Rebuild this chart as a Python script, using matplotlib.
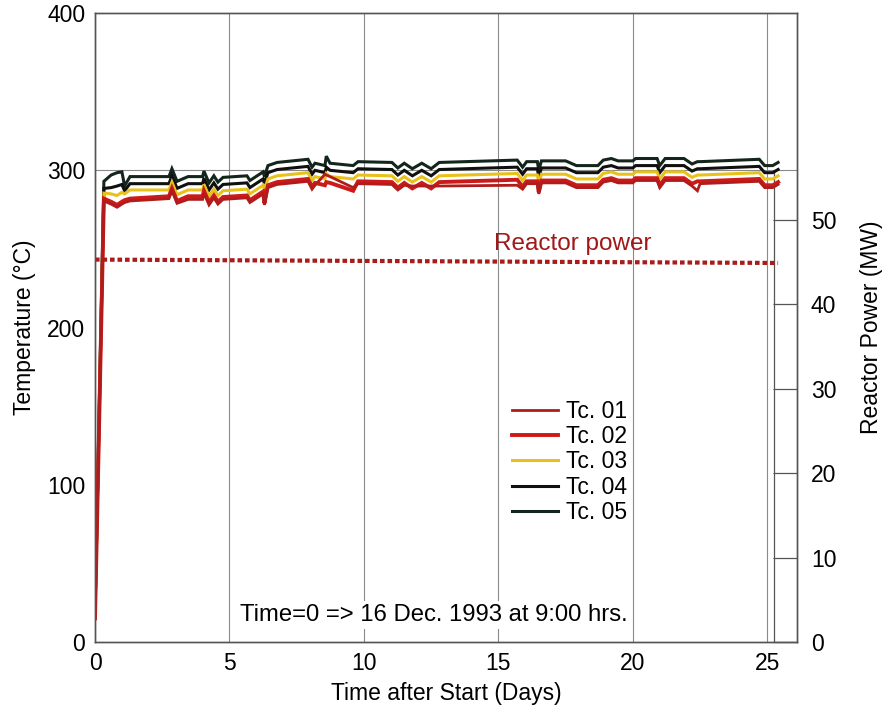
import matplotlib
matplotlib.use("Agg")
from matplotlib import pyplot as plt

plt.rcParams['font.family'] = ['Liberation Sans', 'DejaVu Sans']

# time after start (days), shared by all thermocouples
days = [0, 0.33, 0.6, 0.82, 1.0, 1.1, 1.3,
        2.75, 2.86, 3.05, 3.46, 4.0, 4.05, 4.24, 4.42, 4.57, 4.76,
        5.65, 5.76, 6.25, 6.3, 6.43, 6.77, 7.92, 8.07, 8.18,
        8.55, 8.6, 8.74, 9.6, 9.78,
        11.04, 11.26, 11.5, 11.8, 12.15, 12.5, 12.8,
        15.7, 15.9, 16.05, 16.45, 16.5, 16.6,
        17.5, 17.9, 18.7, 18.9, 19.2, 19.45,
        20.0, 20.1, 20.9, 21.0, 21.2, 21.9,
        22.2, 22.4, 22.5,
        24.7, 24.9, 25.2, 25.4]

tc01 = [15, 280.5, 278.5, 276.5, 278.5, 279.5, 280.5,
        282, 287, 279, 281.5, 281.5, 285.5, 278, 282.5, 278.5, 281.5,
        282.5, 279.5, 285, 278, 289, 291, 293, 288, 290.5,
        297.5, 297, 296, 289, 291.5,
        291, 287.5, 290.5, 290, 290, 290, 290,
        290.5, 288, 291.5, 291.5, 285, 292,
        292, 289, 289, 292.5, 293.5, 292,
        292, 293.5, 293.5, 289, 293.5, 293.5,
        290, 287, 291.5,
        293, 289, 289, 291]

tc02 = [15, 282, 280, 278, 280, 281, 282,
        283.5, 288.5, 280.5, 283.5, 283.5, 287, 279.5, 284, 280, 283,
        284, 281, 286.5, 279, 290.5, 292.5, 294.5, 289.5, 292,
        290.5, 292.5, 292, 287, 293,
        292.5, 289, 292, 288.5, 292, 288.5, 292.5,
        294, 289.5, 293, 293, 286, 293.5,
        293.5, 290.5, 290.5, 294, 295, 293.5,
        293.5, 295, 295, 290.5, 295, 295,
        291.5, 293, 293,
        294.5, 290.5, 290.5, 292.5]

tc03 = [17, 285.5, 285, 284, 286, 285, 287.5,
        287.5, 292.5, 284.5, 287.5, 287.5, 291, 283.5, 288, 284, 287,
        288, 285, 290.5, 287.5, 294.5, 296.5, 298.5, 293.5, 296,
        294.5, 298, 296, 294.5, 297,
        296.5, 293, 296, 292.5, 296, 292.5, 296.5,
        298, 293.5, 297, 297, 291.5, 297.5,
        297.5, 294.5, 294.5, 298, 299, 297.5,
        297.5, 299, 299, 294.5, 299, 299,
        295.5, 297, 297,
        298.5, 294.5, 294.5, 296.5]

tc04 = [18, 288.5, 289, 290, 291, 287, 291.5,
        291.5, 296.5, 288.5, 291.5, 291.5, 295, 287.5, 292, 288, 291,
        292, 289, 294.5, 291.5, 298.5, 300.5, 302.5, 297.5, 300,
        298.5, 302, 300, 298.5, 301,
        300.5, 297, 300, 296.5, 300, 296.5, 300.5,
        302, 297.5, 301, 301, 295.5, 301.5,
        301.5, 298.5, 298.5, 302, 303, 301.5,
        301.5, 303, 303, 298.5, 303, 303,
        299.5, 301, 301,
        302.5, 298.5, 298.5, 300.5]

tc05 = [20, 293, 297, 298.5, 299, 290, 296,
        296, 301, 293, 296, 296, 299.5, 292, 296.5, 292.5, 295.5,
        296.5, 293.5, 299, 296, 303, 305, 307, 302, 304.5,
        303, 309, 304.5, 303, 305.5,
        305, 301.5, 304.5, 301, 304.5, 301, 305,
        306.5, 302, 305.5, 305.5, 300, 306,
        306, 303, 303, 306.5, 307.5, 306,
        306, 307.5, 307.5, 303, 307.5, 307.5,
        304, 305.5, 305.5,
        307, 303, 303, 305]

power_days = [0, 25.4]
power_mw = [45.3, 44.9]

temp_ticks = [0, 100, 200, 300, 400]
day_ticks = [0, 5, 10, 15, 20, 25]
power_ticks = [0, 10, 20, 30, 40, 50]

FS = 16.5

fig = plt.figure(figsize=(8.93, 7.18), dpi=100)
ax = fig.add_axes([0.1064, 0.1058, 0.786, 0.876])
ax2 = ax.twinx()

grid_col = "#8a8a8a"
for d in day_ticks[1:]:
    ax.axvline(d, color=grid_col, lw=0.8, zorder=0)
ax.axhline(300, color=grid_col, lw=0.8, zorder=0)
# narrow power-scale strip at the right edge
ax.axvline(25.25, ymax=0.75, color="#555555", lw=0.9, zorder=0)

series = [
    ("Tc. 05", tc05, "#14261c", 2.2),
    ("Tc. 04", tc04, "#101010", 2.2),
    ("Tc. 03", tc03, "#e8c21a", 2.2),
    ("Tc. 02", tc02, "#cc1a1a", 2.8),
    ("Tc. 01", tc01, "#b01c1c", 2.0),
]
handles = {}
for i, (name, vals, col, lw) in enumerate(series):
    (ln,) = ax.plot(days, vals, color=col, lw=lw, zorder=2 + i,
                    solid_joinstyle="miter")
    handles[name] = ln

ax2.plot(power_days, power_mw, color="#a81c1c", lw=3,
         linestyle=(0, (1.1, 0.7)))
ax.text(14.85, 253, "Reactor power", color="#a01818", fontsize=17.5,
        va="center", ha="left")
ax.text(5.4, 17, "Time=0 => 16 Dec. 1993 at 9:00 hrs.", fontsize=17.2,
        va="center", ha="left",
        bbox=dict(facecolor="white", edgecolor="none", pad=2))

ax.set_xlim(0, 26.1)
ax.set_ylim(0, 400)
ax2.set_ylim(0, 74.5)
ax.set_xticks(day_ticks)
ax.set_yticks(temp_ticks)
ax2.set_yticks(power_ticks)
ax.tick_params(axis="both", length=0, labelsize=FS, pad=7)
ax2.tick_params(axis="y", direction="in", length=17, width=0.9,
                color="#555555", labelsize=FS, pad=10)

ax.set_xlabel("Time after Start (Days)", fontsize=FS, labelpad=5)
ax.set_ylabel("Temperature (\u00b0C)", fontsize=FS, labelpad=8)
ax2.set_ylabel("Reactor Power (MW)", fontsize=FS, labelpad=17)

for a in (ax, ax2):
    for s in a.spines.values():
        s.set_color("#555555")
        s.set_linewidth(1.0)

order = ["Tc. 01", "Tc. 02", "Tc. 03", "Tc. 04", "Tc. 05"]
ax.legend([handles[n] for n in order], order, loc="upper left",
          bbox_to_anchor=(0.594, 0.385), frameon=False, fontsize=FS,
          handlelength=2.0, labelspacing=0.1, handletextpad=0.35,
          borderpad=0, borderaxespad=0)

fig.savefig("out.png", dpi=100, facecolor="white")
